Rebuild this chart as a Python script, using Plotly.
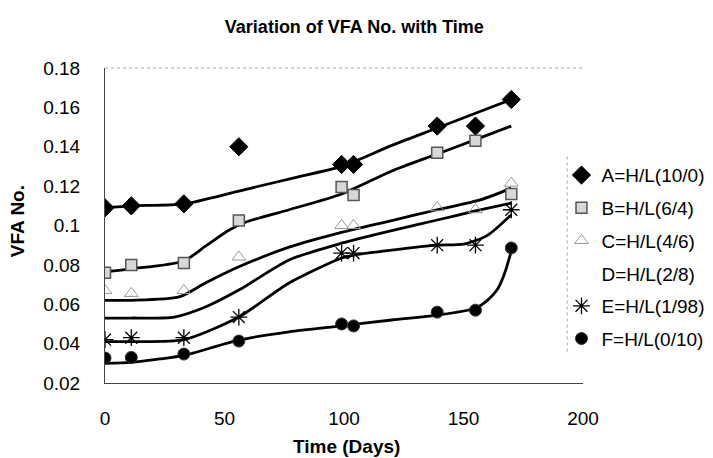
import plotly.graph_objects as go

# ---- data ----
days = [0, 11, 33, 56, 99, 104, 139, 155, 170]

A_vals = [0.109, 0.110, 0.111, 0.140, 0.131, 0.131, 0.1505, 0.1505, 0.164]
B_vals = [0.076, 0.080, 0.081, 0.1025, 0.1195, 0.1155, 0.137, 0.143, 0.116]
C_vals = [0.067, 0.0655, 0.067, 0.084, 0.100, 0.100, 0.109, 0.108, 0.1215]
D_vals = [0.053, 0.053, 0.054, 0.067, 0.091, 0.093, 0.1028, 0.1074, 0.111]
E_vals = [0.042, 0.043, 0.043, 0.0535, 0.086, 0.086, 0.090, 0.090, 0.108]
F_vals = [0.0327, 0.033, 0.0347, 0.0413, 0.050, 0.049, 0.056, 0.057, 0.0886]

# fitted (trend) curves
A_fit_days = [0, 11, 33, 56, 80, 99, 120, 139, 155, 170]
A_fit_vals = [0.109, 0.110, 0.111, 0.1175, 0.1245, 0.130, 0.1407, 0.1495, 0.157, 0.164]
B_fit_days = [0, 11, 33, 42, 52, 59, 77, 99, 120, 139, 155, 170]
B_fit_vals = [0.0765, 0.078, 0.082, 0.0895, 0.0977, 0.1018, 0.108, 0.116, 0.1277, 0.1363, 0.1436, 0.1505]
C_fit_days = [0, 11, 31, 42, 56, 77, 99, 120, 139, 157, 170]
C_fit_vals = [0.062, 0.062, 0.0637, 0.0708, 0.079, 0.089, 0.0965, 0.1025, 0.108, 0.113, 0.119]
D_fit_days = [0, 11, 29, 42, 56, 77, 99, 120, 139, 155, 170]
D_fit_vals = [0.053, 0.053, 0.0535, 0.0586, 0.0672, 0.0825, 0.091, 0.0974, 0.1028, 0.1074, 0.1114]
E_fit_days = [0, 11, 33, 56, 77, 99, 104, 120, 139, 150, 160, 170]
E_fit_vals = [0.041, 0.041, 0.042, 0.0535, 0.0708, 0.0835, 0.085, 0.0875, 0.090, 0.0905, 0.095, 0.1055]
F_fit_days = [0, 11, 23, 33, 56, 77, 99, 120, 139, 155, 160, 164, 167, 170]
F_fit_vals = [0.030, 0.0305, 0.0322, 0.034, 0.0418, 0.046, 0.049, 0.052, 0.0545, 0.058, 0.062, 0.0672, 0.075, 0.087]

names = ["A=H/L(10/0)", "B=H/L(6/4)", "C=H/L(4/6)", "D=H/L(2/8)", "E=H/L(1/98)", "F=H/L(0/10)"]

FONT = "Liberation Sans, Arial, sans-serif"

fig = go.Figure()

fits = [(A_fit_days, A_fit_vals), (B_fit_days, B_fit_vals), (C_fit_days, C_fit_vals),
        (D_fit_days, D_fit_vals), (E_fit_days, E_fit_vals), (F_fit_days, F_fit_vals)]
for fx, fy in fits:
    fig.add_trace(go.Scatter(x=fx, y=fy, mode="lines", showlegend=False, hoverinfo="skip",
                             line=dict(color="black", width=2.8, shape="spline", smoothing=0.7)))

styles = [
    dict(symbol="diamond", size=14, color="black", line=dict(color="black", width=1)),
    dict(symbol="square", size=11, color="#d8d8d8", line=dict(color="#555555", width=1.5)),
    dict(symbol="triangle-up-open", size=12, color="#999999", line=dict(color="#999999", width=1)),
    dict(symbol="circle", size=10, color="rgba(0,0,0,0)", line=dict(color="rgba(0,0,0,0)", width=0)),
    dict(symbol="asterisk-open", size=14, color="black", line=dict(color="black", width=1.3)),
    dict(symbol="circle", size=12, color="black", line=dict(color="#333333", width=1)),
]
for i, (nm, vals, st) in enumerate(zip(names, [A_vals, B_vals, C_vals, D_vals, E_vals, F_vals], styles)):
    fig.add_trace(go.Scatter(x=days, y=vals, mode="markers", name=nm, marker=st,
                             legendgroup="g%d" % i))

fig.update_layout(
    width=713, height=458,
    margin=dict(l=105, r=130, t=68, b=75, autoexpand=False),
    paper_bgcolor="white", plot_bgcolor="white",
    font=dict(family=FONT, size=19, color="black"),
    title=dict(text="<b>Variation of VFA No. with Time</b>", x=0.497, xanchor="center",
               y=0.941, yanchor="middle", font=dict(size=18)),
    showlegend=True,
    legend=dict(x=0.955, xanchor="left", y=0.72, yanchor="top", bgcolor="rgba(0,0,0,0)",
                font=dict(size=19), itemsizing="trace", tracegroupgap=5),
    xaxis=dict(range=[0, 200], dtick=50, showgrid=False, zeroline=False, showline=True,
               linecolor="#444444", linewidth=1, ticks="", ticklabelstandoff=18),
    yaxis=dict(range=[0.02, 0.18], dtick=0.02, showgrid=False, zeroline=False, showline=True,
               linecolor="#444444", linewidth=1, ticks="", ticklabelstandoff=20),
    annotations=[
        dict(text="<b>Time (Days)</b>", xref="paper", yref="paper", x=0.506, y=-0.2,
             xanchor="center", yanchor="middle", showarrow=False, font=dict(size=19)),
        dict(text="<b>VFA No.</b>", xref="paper", yref="paper", x=-0.184, y=0.514,
             xanchor="center", yanchor="middle", showarrow=False, textangle=-90,
             font=dict(size=19)),
    ],
    shapes=[
        dict(type="line", xref="paper", yref="paper", x0=0, x1=1, y0=1, y1=1,
             line=dict(color="#aaaaaa", width=1, dash="dot")),
        dict(type="line", xref="paper", yref="paper", x0=0.967, x1=0.967, y0=0.1, y1=0.72,
             line=dict(color="#aaaaaa", width=1, dash="dot")),
    ],
)

fig.write_html("out.html")
